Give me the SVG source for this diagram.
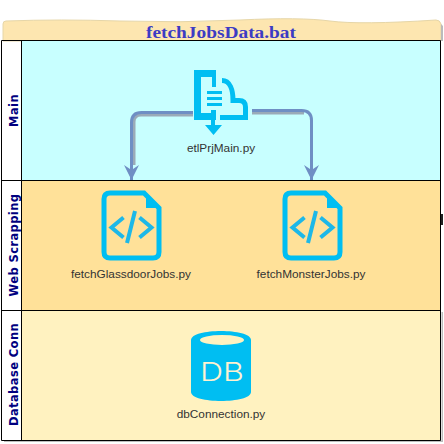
<svg xmlns="http://www.w3.org/2000/svg" width="444" height="444" viewBox="0 0 444 444">
<style>
.lane{stroke:#000;stroke-width:1}
.lbl{font-family:"Comic Sans MS","DejaVu Sans",sans-serif;font-size:11.5px;font-weight:bold;fill:#000080;text-anchor:middle;letter-spacing:.4px}
.nm{font-family:"Liberation Sans",Arial,sans-serif;font-size:11.8px;fill:#333;text-anchor:middle}
.cn{fill:none;stroke-width:3}
.sh{stroke:#9aaab8}
.ar{stroke:#6f8fc4}
.blue{fill:#00bef2}
</style>
<defs>
<marker id="ah" markerUnits="userSpaceOnUse" markerWidth="16" markerHeight="16" refX="15" refY="7.500" orient="auto" viewBox="0 0 16 16"><path d="M0 0L5 7.500L0 15L15 7.500Z" fill="#6f8fc4"/></marker>
<g id="code">
<path fill="none" stroke="#00bef2" stroke-width="5" d="M110 193H144L159 208V252Q159 258 153 258H110Q104 258 104 252V199Q104 193 110 193Z"/>
<path d="M146 193L161 208H146Z" fill="#00bef2"/>
<path d="M123.500 217.500L111.500 227.500L123.500 237.500M139.500 217.500L151.500 227.500L139.500 237.500M135 211L127 243" fill="none" stroke="#1db8e8" stroke-width="4"/>
</g>
</defs>
<g id="pool">
<path d="M3 41V24Q3 21 6 21Q60 19 120 21T240 20T330 21T436 20Q440 20 441 24V41Z" fill="#fde6b0" stroke="#e6d6a8" stroke-width="1"/>
<path d="M441 24V41H443V26Z" fill="#bbb"/>
<text x="221" y="38" textLength="150" lengthAdjust="spacingAndGlyphs" style="font-family:'Liberation Serif',serif;font-size:17px;font-weight:bold;fill:#3c3cc4" text-anchor="middle">fetchJobsData.bat</text>
<rect x="22" y="40.500" width="418.500" height="140" fill="#c8ffff"/>
<rect x="22" y="180.500" width="418.500" height="130" fill="#ffe199"/>
<rect x="22" y="310.500" width="418.500" height="130" fill="#fff2c0"/>
<path d="M4 442H443V312H441.500V440.500H4Z" fill="#bdbdbd"/>
<rect x="441" y="214" width="2" height="11" fill="#222"/>
<path class="lane" fill="none" d="M1.500 40.500H440.500V440.500H1.500ZM21.500 40.500V440.500M1.500 180.500H440.500M1.500 310.500H440.500"/>
</g>
<g id="lane-labels">
<text class="lbl" transform="translate(17.500 110.500) rotate(-90)">Main</text>
<text class="lbl" transform="translate(17.500 245) rotate(-90)">Web  Scrapping</text>
<text class="lbl" transform="translate(17.500 374.500) rotate(-90)">Database  Conn</text>
</g>
<g id="connectors">
<path class="cn sh" d="M193 115H141Q134 115 134 122V165"/>
<path class="cn ar" d="M193 112.500H141.500Q131.500 112.500 131.500 122.500V180" marker-end="url(#ah)"/>
<path class="cn sh" d="M252 113H304"/>
<path class="cn ar" d="M252 110.500H301.500Q311.500 110.500 311.500 120.500V180" marker-end="url(#ah)"/>
</g>
<g id="etlPrjMain">
<path class="blue" d="M194 70H216V87H212V77H201V113H212V110H216V120H194Z"/>
<path d="M222 80.500C230 80.500 233 90 233 100.500H239Q245.500 100.500 245.500 107V117.500H220" fill="none" stroke="#00bef2" stroke-width="5"/>
<path class="blue" d="M207 91H222V94H207ZM207 97H222V100H207ZM207 103H222V106H207Z"/>
<path class="blue" d="M211 110H215V125H222L213.500 135L205 125H211Z"/>
<text class="nm" x="221" y="152">etlPrjMain.py</text>
</g>
<g id="fetchGlassdoorJobs">
<use href="#code"/>
<text class="nm" x="131" y="278">fetchGlassdoorJobs.py</text>
</g>
<g id="fetchMonsterJobs">
<use href="#code" x="181"/>
<text class="nm" x="311" y="278">fetchMonsterJobs.py</text>
</g>
<g id="dbConnection">
<path class="blue" d="M191 340C191 328 251 328 251 340V392C251 404 191 404 191 392Z"/>
<ellipse cx="222" cy="340" rx="22" ry="5" fill="#fff2c0"/>
<text x="222" y="381" textLength="44" lengthAdjust="spacingAndGlyphs" style="font-family:Inter,'Liberation Sans',sans-serif;font-size:26px;font-weight:300;fill:#fff2d0" text-anchor="middle">DB</text>
<text class="nm" x="221" y="418">dbConnection.py</text>
</g>
</svg>
